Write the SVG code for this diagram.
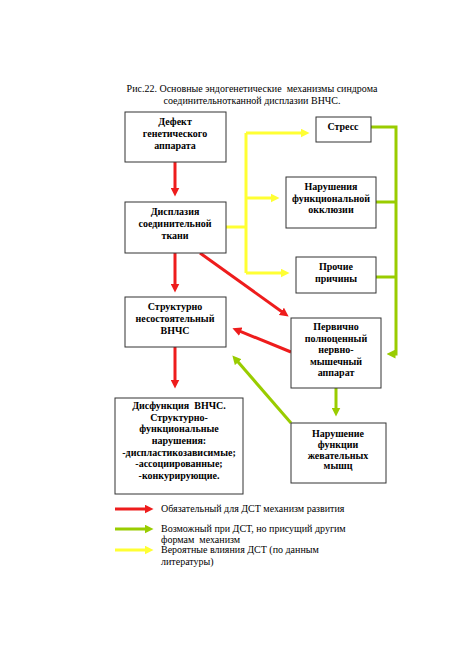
<svg xmlns="http://www.w3.org/2000/svg" width="459" height="650" viewBox="0 0 459 650">
<style>
.box{fill:#fff;stroke:#333;stroke-width:1}
.t{font-family:"Liberation Serif","Times New Roman","DejaVu Serif",serif;font-size:10px;font-weight:bold;fill:#000;text-anchor:middle}
.n{font-family:"Liberation Serif","Times New Roman","DejaVu Serif",serif;font-size:10px;fill:#000}
.r{stroke:#ee1c1c;stroke-width:3;fill:none}
.g{stroke:#99cc00;stroke-width:3;fill:none}
.y{stroke:#ffff33;stroke-width:3;fill:none}
</style>
<defs>
<marker id="ar" viewBox="0 0 10 10" refX="5" refY="5" markerWidth="9" markerHeight="9" markerUnits="userSpaceOnUse" orient="auto"><path d="M0,0 L10,5 L0,10 z" fill="#ee1c1c"/></marker>
<marker id="ag" viewBox="0 0 10 10" refX="5" refY="5" markerWidth="9" markerHeight="9" markerUnits="userSpaceOnUse" orient="auto"><path d="M0,0 L10,5 L0,10 z" fill="#99cc00"/></marker>
<marker id="ay" viewBox="0 0 10 10" refX="5" refY="5" markerWidth="9" markerHeight="9" markerUnits="userSpaceOnUse" orient="auto"><path d="M0,0 L10,5 L0,10 z" fill="#ffff33"/></marker>
</defs>
<rect width="459" height="650" fill="#fff"/>
<g id="title">
<text class="n" x="252" y="92" text-anchor="middle" xml:space="preserve">Рис.22. Основные эндогенетические  механизмы синдрома</text>
<text class="n" x="252" y="104" text-anchor="middle">соединительнотканной дисплазии ВНЧС.</text>
</g>
<g id="connectors">
<line class="r" x1="175" y1="162" x2="175" y2="192" marker-end="url(#ar)"/>
<line class="r" x1="175" y1="253" x2="175" y2="288" marker-end="url(#ar)"/>
<line class="r" x1="175" y1="347" x2="175" y2="384" marker-end="url(#ar)"/>
<line class="r" x1="200" y1="253" x2="285" y2="314" marker-end="url(#ar)"/>
<line class="r" x1="291" y1="352" x2="236.6" y2="329.9" marker-end="url(#ar)"/>
<line class="g" x1="291" y1="423" x2="235.3" y2="358.8" marker-end="url(#ag)"/>
<line class="g" x1="336" y1="388" x2="336" y2="412" marker-end="url(#ag)"/>
<polyline class="g" points="371,127 396,127 396,354 391,354" marker-end="url(#ag)"/>
<line class="g" x1="376" y1="202" x2="396" y2="202"/>
<line class="g" x1="376" y1="277" x2="396" y2="277"/>
<line class="y" x1="226" y1="227" x2="246" y2="227"/>
<line class="y" x1="246" y1="133" x2="246" y2="273"/>
<line class="y" x1="246" y1="133" x2="305" y2="133" marker-end="url(#ay)"/>
<line class="y" x1="246" y1="198" x2="275" y2="198" marker-end="url(#ay)"/>
<line class="y" x1="246" y1="273" x2="285" y2="273" marker-end="url(#ay)"/>
</g>
<g id="n1"><rect class="box" x="125" y="112" width="101" height="50"/>
<text class="t" x="175" y="125">Дефект</text><text class="t" x="175" y="137">генетического</text><text class="t" x="175" y="149">аппарата</text></g>
<g id="n2"><rect class="box" x="125" y="202" width="101" height="51"/>
<text class="t" x="175" y="215">Дисплазия</text><text class="t" x="175" y="227">соединительной</text><text class="t" x="175" y="239">ткани</text></g>
<g id="n3"><rect class="box" x="125" y="297" width="101" height="50"/>
<text class="t" x="175" y="310">Структурно</text><text class="t" x="175" y="322">несостоятельный</text><text class="t" x="175" y="334">ВНЧС</text></g>
<g id="n4"><rect class="box" x="115" y="398" width="128" height="96"/>
<text class="t" x="179" y="409" xml:space="preserve">Дисфункция  ВНЧС.</text><text class="t" x="179" y="421">Структурно-</text><text class="t" x="179" y="432">функциональные</text><text class="t" x="179" y="444">нарушения:</text><text class="t" x="179" y="456">-диспластикозависимые;</text><text class="t" x="179" y="467">-ассоциированные;</text><text class="t" x="179" y="479">-конкурирующие.</text></g>
<g id="n5"><rect class="box" x="316" y="117" width="55" height="25"/>
<text class="t" x="343" y="130">Стресс</text></g>
<g id="n6"><rect class="box" x="286" y="177" width="90" height="51"/>
<text class="t" x="331" y="190">Нарушения</text><text class="t" x="331" y="202">функциональной</text><text class="t" x="331" y="213">окклюзии</text></g>
<g id="n7"><rect class="box" x="296" y="257" width="80" height="36"/>
<text class="t" x="336" y="270">Прочие</text><text class="t" x="336" y="282">причины</text></g>
<g id="n8"><rect class="box" x="291" y="318" width="90" height="70"/>
<text class="t" x="336" y="330">Первично</text><text class="t" x="336" y="342">полноценный</text><text class="t" x="336" y="353">нервно-</text><text class="t" x="336" y="365">мышечный</text><text class="t" x="336" y="376">аппарат</text></g>
<g id="n9"><rect class="box" x="291" y="423" width="95" height="60"/>
<text class="t" x="338" y="437">Нарушение</text><text class="t" x="338" y="448">функции</text><text class="t" x="338" y="459">жевательных</text><text class="t" x="338" y="469">мышц</text></g>
<g id="legend">
<line class="r" x1="115" y1="509" x2="149" y2="509" marker-end="url(#ar)"/>
<line class="g" x1="115" y1="529" x2="149" y2="529" marker-end="url(#ag)"/>
<line class="y" x1="115" y1="550" x2="149" y2="550" marker-end="url(#ay)"/>
<text class="n" x="161" y="512">Обязательный для ДСТ механизм развития</text>
<text class="n" x="161" y="532">Возможный при ДСТ, но присущий другим</text>
<text class="n" x="161" y="543" xml:space="preserve">формам  механизм</text>
<text class="n" x="161" y="553">Вероятные влияния ДСТ (по данным</text>
<text class="n" x="161" y="565">литературы)</text>
</g>
</svg>
